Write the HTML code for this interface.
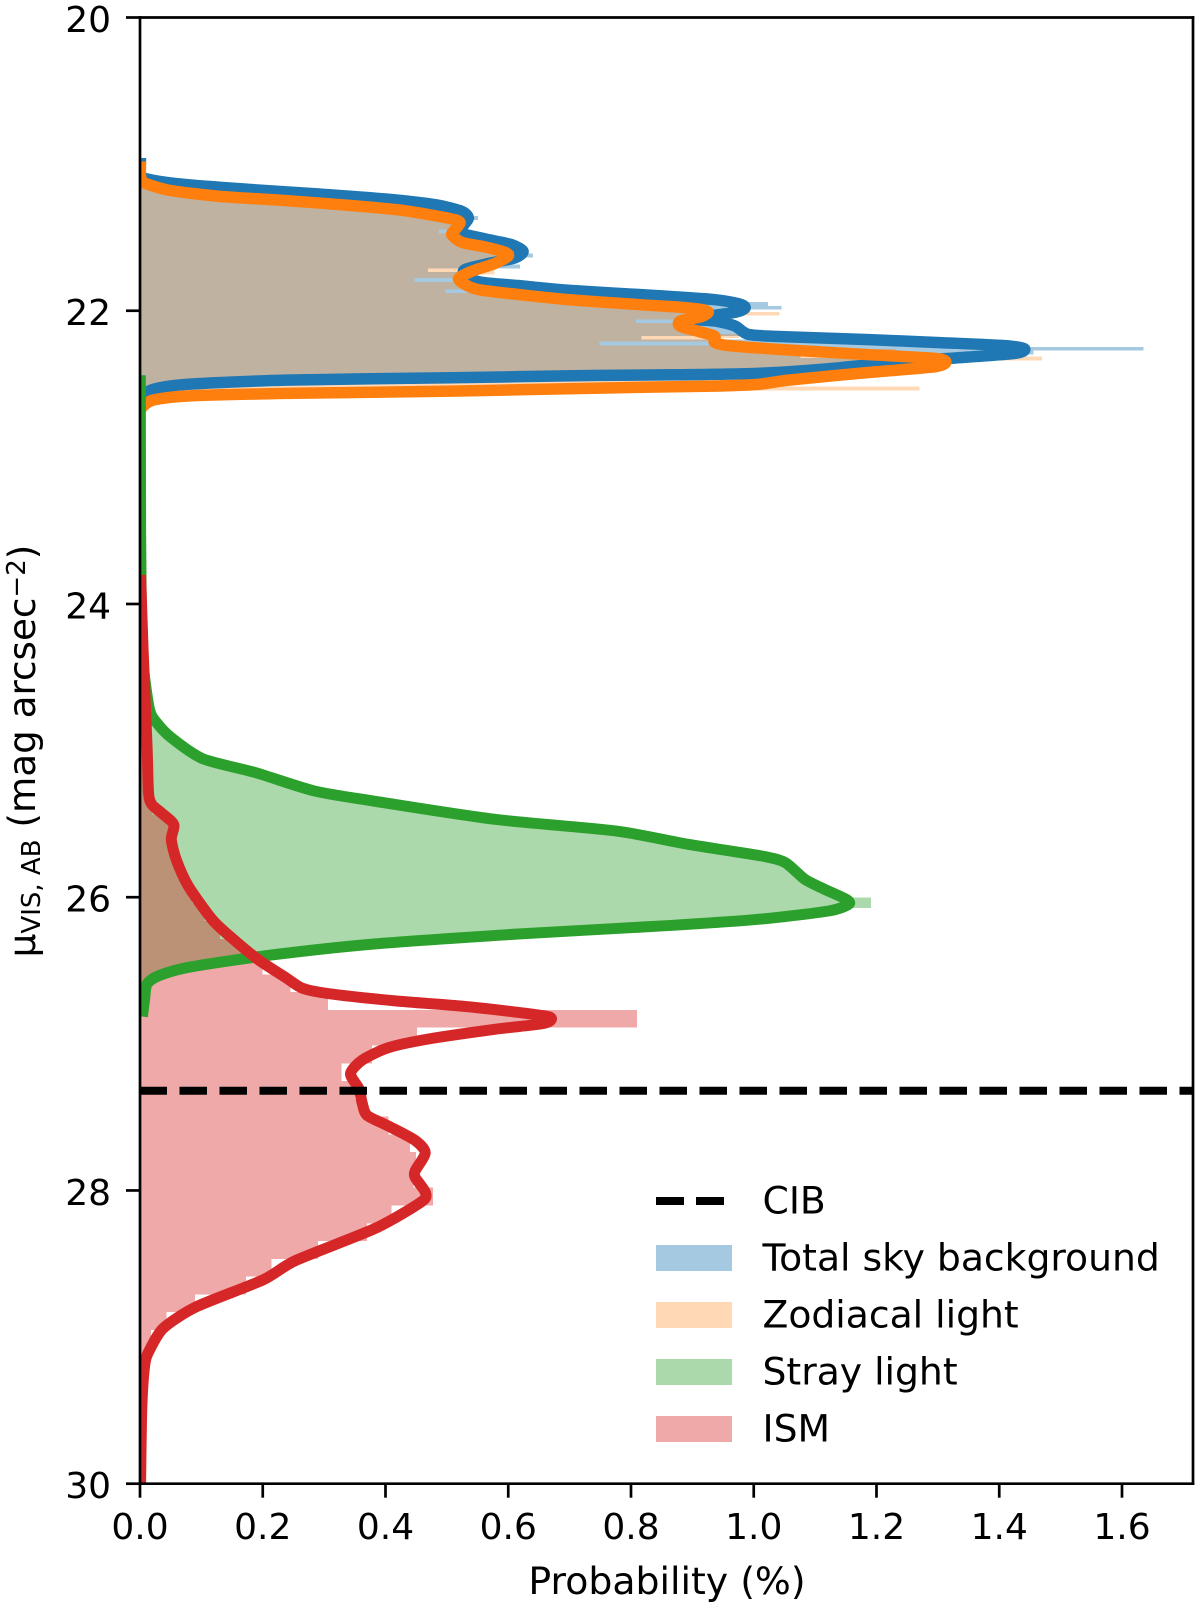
<!DOCTYPE html>
<html lang="en">
<head>
<meta charset="utf-8">
<title>Sky background probability distributions</title>
<style>
html,body{margin:0;padding:0;background:#fff;}
svg{display:block;}
text{font-family:"DejaVu Sans","Liberation Sans",sans-serif;font-size:36px;fill:#000;}
</style>
</head>
<body>
<svg id="chart" xmlns="http://www.w3.org/2000/svg" width="1200" height="1614" viewBox="0 0 1200 1614">
  <defs><clipPath id="plot-clip"><rect x="140" y="17.5" width="1053" height="1466.2"></rect></clipPath></defs>
  <rect x="0" y="0" width="1200" height="1614" fill="#fff"></rect>
  <g id="bars" clip-path="url(#plot-clip)"></g>
  <g id="lines" clip-path="url(#plot-clip)"></g>
  <g id="axes"></g>
  <text x="667" y="1594" text-anchor="middle" style="font-size:37.8px">Probability (%)</text>
  <text transform="translate(35,751) rotate(-90)" text-anchor="middle" style="font-size:37.3px">μ<tspan font-size="26" dy="5">VIS, AB</tspan><tspan dy="-5"> (mag arcsec</tspan><tspan font-size="26" dy="-10">−2</tspan><tspan dy="10">)</tspan></text>
  <g id="legend"></g>
</svg>
<script>
// Axis limits and ticks
const xDomain = [0, 1.7157];
const yDomain = [20, 30];
const xTicks = [0, 0.2, 0.4, 0.6, 0.8, 1.0, 1.2, 1.4, 1.6];
const xTickLabels = ['0.0', '0.2', '0.4', '0.6', '0.8', '1.0', '1.2', '1.4', '1.6'];
const yTicks = [20, 22, 24, 26, 28, 30];
const yTickLabels = ['20', '22', '24', '26', '28', '30'];

// CIB reference level (mag/arcsec^2)
const cibLevel = 27.32;

// Density curves: magnitude and probability (%)
const totalMag = [20.959,21.072,21.106,21.140,21.174,21.204,21.238,21.277,21.322,21.367,21.420,21.470,21.510,21.549,21.594,21.640,21.678,21.719,21.765,21.806,21.828,21.860,21.896,21.923,21.953,21.980,22.010,22.055,22.071,22.105,22.162,22.178,22.196,22.218,22.237,22.259,22.291,22.325,22.355,22.396,22.427,22.437,22.441,22.457,22.473,22.502,22.536,22.58,22.62];
const totalProb = [0.0008,0.001,0.016,0.0757,0.1837,0.2918,0.3999,0.4809,0.5241,0.5350,0.5268,0.524,0.562,0.6052,0.6241,0.6106,0.5674,0.5296,0.5296,0.5566,0.616,0.697,0.839,0.933,0.976,0.986,0.970,0.901,0.939,0.970,0.992,1.057,1.182,1.307,1.406,1.441,1.425,1.319,1.219,1.120,1.007,0.87,0.7457,0.508,0.2378,0.0757,0.0216,0.0054,0.002];

const zodiMag = [20.982,21.084,21.129,21.179,21.220,21.249,21.283,21.315,21.352,21.379,21.401,21.447,21.481,21.533,21.565,21.601,21.628,21.678,21.731,21.783,21.833,21.860,21.889,21.924,21.957,21.973,21.991,22.010,22.041,22.071,22.105,22.139,22.173,22.214,22.237,22.268,22.298,22.325,22.350,22.382,22.423,22.473,22.502,22.514,22.525,22.548,22.564,22.582,22.609,22.65,22.67];
const zodiProb = [0.0008,0.001,0.008,0.0487,0.1297,0.2378,0.3458,0.4269,0.4809,0.5133,0.5215,0.5133,0.508,0.524,0.562,0.5944,0.5998,0.578,0.5404,0.5187,0.5349,0.5566,0.616,0.697,0.808,0.870,0.914,0.926,0.914,0.880,0.880,0.908,0.936,0.936,0.958,1.057,1.182,1.295,1.313,1.295,1.182,1.057,1.007,0.933,0.778,0.508,0.2378,0.0757,0.0216,0.0054,0.002];

const strayMag = [22.44,23.5,24.0,24.4,24.719,24.81,24.912,25.055,25.151,25.275,25.343,25.468,25.548,25.639,25.718,25.763,25.877,25.945,26.013,26.047,26.093,26.149,26.195,26.251,26.32,26.399,26.478,26.535,26.592,26.694,26.814];
const strayProb = [0.0005,0.001,0.002,0.005,0.0154,0.0273,0.051,0.102,0.189,0.284,0.379,0.577,0.775,0.893,1.012,1.051,1.083,1.115,1.15,1.155,1.123,1.012,0.854,0.616,0.379,0.205,0.079,0.031,0.0115,0.0075,0.004];

const ismMag = [23.802,24.306,24.971,25.289,25.368,25.425,25.504,25.606,25.743,25.924,26.154,26.279,26.427,26.549,26.621,26.658,26.707,26.743,26.78,26.816,26.86,26.901,26.967,27.026,27.111,27.203,27.305,27.403,27.488,27.561,27.658,27.743,27.865,27.912,28.011,28.076,28.258,28.477,28.611,28.793,28.939,29.085,29.182,29.474,29.98,30];
const ismProb = [0.001,0.005,0.0115,0.0139,0.0194,0.035,0.055,0.051,0.059,0.0787,0.118,0.15,0.193,0.2378,0.2648,0.308,0.416,0.524,0.605,0.667,0.659,0.578,0.47,0.405,0.362,0.343,0.3566,0.362,0.370,0.405,0.448,0.4647,0.4485,0.4485,0.4647,0.459,0.3836,0.254,0.200,0.092,0.038,0.016,0.008,0.003,0.001,0.001];

// Histograms: first bin edge, bin width and bar values (%)
const totalBinStart = 21.04875;
const totalBinWidth = 0.0255;
const totalBars = [0.005,0.009,0.022,0.066,0.14,0.227,0.316,0.397,0.45,0.492,0.516,0.528,0.551,0.531,0.527,0.525,0.524,0.545,0.57,0.60,0.613,0.624,0.64,0.606,0.576,0.619,0.469,0.53,0.535,0.55,0.60,0.67,0.76,0.85,0.94,1.023,1.045,0.975,0.935,0.90,0.94,0.97,0.98,0.99,0.817,1.24,1.38,1.635,1.456,1.076,1.29,1.21,1.15,1.06,1.207,0.45,0.14,0.05,0.02,0.008,0.004];

const zodiBinStart = 21.06375;
const zodiBinWidth = 0.0255;
const zodiBars = [0.004,0.006,0.008,0.025,0.045,0.09,0.15,0.245,0.33,0.40,0.445,0.485,0.513,0.521,0.517,0.487,0.508,0.515,0.524,0.555,0.58,0.597,0.60,0.59,0.57,0.55,0.578,0.525,0.447,0.525,0.54,0.497,0.61,0.675,0.74,0.84,0.92,1.042,0.91,0.808,0.88,0.89,0.91,0.976,0.94,0.749,1.10,1.232,1.2,1.47,1.31,1.30,1.24,1.18,1.12,1.05,1.0,1.27,0.44,0.15,0.03,0.008,0.003];

const strayBinStart = 24.603;
const strayBinWidth = 0.07;
const strayBars = [0.005,0.013,0.023,0.035,0.052,0.077,0.102,0.166,0.223,0.277,0.369,0.486,0.597,0.77,0.863,0.964,1.045,1.069,1.092,1.128,1.191,1.09,0.92,0.64,0.39,0.23,0.11,0.038,0.011,0.007,0.004];

const ismBinStart = 24.949;
const ismBinWidth = 0.1213;
const ismBars = [0.011,0.012,0.013,0.02,0.05,0.05,0.058,0.07,0.085,0.105,0.13,0.165,0.20,0.245,0.306,0.81,0.451,0.378,0.328,0.35,0.36,0.405,0.44,0.45,0.446,0.477,0.41,0.37,0.29,0.214,0.173,0.09,0.043,0.018,0.009,0.006,0.005,0.004,0.004,0.003];

// Legend labels
const legendLabels = ['CIB', 'Total sky background', 'Zodiacal light', 'Stray light', 'ISM'];

const SVGNS = 'http://www.w3.org/2000/svg';
const colorTotal = '#1f77b4', colorZodi = '#ff7f0e', colorStray = '#2ca02c', colorIsm = '#d62728';
const alphaTotal = 0.4, alphaZodi = 0.3, alphaStray = 0.4, alphaIsm = 0.4;

const plotLeft = 140, plotRight = 1193, plotTop = 17.5, plotBottom = 1483.7;
function xScale(v) { return plotLeft + (v - xDomain[0]) / (xDomain[1] - xDomain[0]) * (plotRight - plotLeft); }
function yScale(m) { return plotTop + (m - yDomain[0]) / (yDomain[1] - yDomain[0]) * (plotBottom - plotTop); }

function make(tag, parent, attrs) {
  const el = document.createElementNS(SVGNS, tag);
  for (const k in attrs) el.setAttribute(k, attrs[k]);
  parent.appendChild(el);
  return el;
}

const barsGroup = document.getElementById('bars');
const linesGroup = document.getElementById('lines');
const axesGroup = document.getElementById('axes');
const legendGroup = document.getElementById('legend');

function drawBars(name, start, width, values, color, alpha) {
  values.forEach(function (v, i) {
    const y0 = yScale(start + i * width);
    const y1 = yScale(start + (i + 1) * width);
    const r = make('rect', barsGroup, {
      x: xScale(0), y: y0, width: xScale(v) - xScale(0), height: y1 - y0,
      fill: color, 'fill-opacity': alpha, 'shape-rendering': 'crispEdges'
    });
    
    
  });
}

function smoothPath(mags, probs) {
  const pts = mags.map(function (m, i) { return [xScale(probs[i]), yScale(m)]; });
  const t = 1 / 8;
  let d = 'M' + pts[0][0].toFixed(2) + ' ' + pts[0][1].toFixed(2);
  for (let i = 0; i < pts.length - 1; i++) {
    const p0 = pts[Math.max(i - 1, 0)], p1 = pts[i], p2 = pts[i + 1], p3 = pts[Math.min(i + 2, pts.length - 1)];
    const c1x = p1[0] + (p2[0] - p0[0]) * t, c1y = p1[1] + (p2[1] - p0[1]) * t;
    const c2x = p2[0] - (p3[0] - p1[0]) * t, c2y = p2[1] - (p3[1] - p1[1]) * t;
    d += 'C' + c1x.toFixed(2) + ' ' + c1y.toFixed(2) + ' ' + c2x.toFixed(2) + ' ' + c2y.toFixed(2) + ' ' + p2[0].toFixed(2) + ' ' + p2[1].toFixed(2);
  }
  return d;
}

function drawLine(name, mags, probs, color, width) {
  const p = make('path', linesGroup, {
    d: smoothPath(mags, probs), fill: 'none', stroke: color, 'stroke-width': width,
    'stroke-linejoin': 'round', 'stroke-linecap': 'butt'
  });
  
  
}

drawBars('total-sky', totalBinStart, totalBinWidth, totalBars, colorTotal, alphaTotal);
drawBars('zodiacal', zodiBinStart, zodiBinWidth, zodiBars, colorZodi, alphaZodi);
drawBars('stray-light', strayBinStart, strayBinWidth, strayBars, colorStray, alphaStray);
drawBars('ism', ismBinStart, ismBinWidth, ismBars, colorIsm, alphaIsm);

drawLine('total-sky-curve', totalMag, totalProb, colorTotal, 11.5);
drawLine('zodiacal-curve', zodiMag, zodiProb, colorZodi, 11.5);
drawLine('stray-light-curve', strayMag, strayProb, colorStray, 11);
drawLine('ism-curve', ismMag, ismProb, colorIsm, 11);

const cib = make('line', linesGroup, {
  x1: plotLeft - 0.5, x2: plotRight, y1: yScale(cibLevel), y2: yScale(cibLevel),
  stroke: '#000', 'stroke-width': 8, 'stroke-dasharray': '27.5 12.5'
});



// Spines
const spineSpecs = [
  ['left-spine', plotLeft, plotTop, plotLeft, plotBottom],
  ['right-spine', plotRight, plotTop, plotRight, plotBottom],
  ['top-spine', plotLeft, plotTop, plotRight, plotTop],
  ['bottom-spine', plotLeft, plotBottom, plotRight, plotBottom]
];
spineSpecs.forEach(function (s) {
  const l = make('line', axesGroup, { x1: s[1], y1: s[2], x2: s[3], y2: s[4], stroke: '#000', 'stroke-width': 2.7, 'stroke-linecap': 'square' });
  
  
});

// Ticks
xTicks.forEach(function (v, i) {
  const x = xScale(v);
  const t = make('line', axesGroup, { x1: x, x2: x, y1: plotBottom, y2: plotBottom + 14, stroke: '#000', 'stroke-width': 2.7 });
  
  
  const lab = make('text', axesGroup, { x: x, y: 1539, 'text-anchor': 'middle' });
  lab.textContent = xTickLabels[i];
  
  
});
yTicks.forEach(function (m, i) {
  const y = yScale(m);
  const t = make('line', axesGroup, { x1: plotLeft - 14, x2: plotLeft, y1: y, y2: y, stroke: '#000', 'stroke-width': 2.7 });
  
  
  const lab = make('text', axesGroup, { x: 111, y: y + 14.5, 'text-anchor': 'end' });
  lab.textContent = yTickLabels[i];
  
  
});

// Legend
const legendColors = [null, colorTotal, colorZodi, colorStray, colorIsm];
const legendAlphas = [0, alphaTotal, alphaZodi, alphaStray, alphaIsm];
legendLabels.forEach(function (label, i) {
  const top = 1188 + i * 57;
  if (i === 0) {
    const l = make('line', legendGroup, { x1: 656, x2: 725, y1: 1201, y2: 1201, stroke: '#000', 'stroke-width': 8, 'stroke-dasharray': '28 12' });
    
    
  } else {
    const r = make('rect', legendGroup, { x: 656, y: top, width: 76, height: 26, fill: legendColors[i], 'fill-opacity': legendAlphas[i] });
    
    
  }
  const tx = make('text', legendGroup, { x: 762.5, y: 1213.5 + i * 57, style: 'font-size:37.7px' });
  tx.textContent = label;
  
  
});
</script>
</body>
</html>
